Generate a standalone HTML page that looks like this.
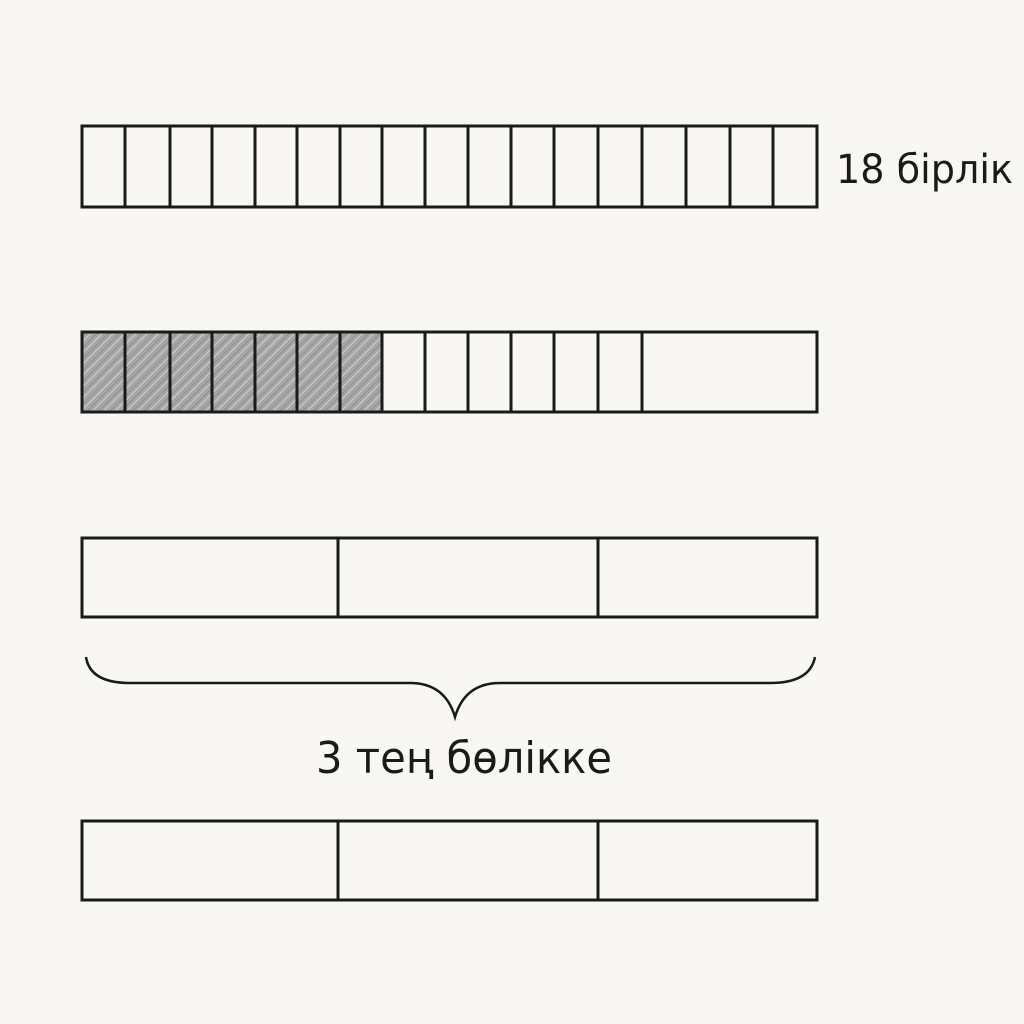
<!DOCTYPE html>
<html><head><meta charset="utf-8"><style>
html,body{margin:0;padding:0;background:#f9f7f3;}
svg{display:block}
text{font-family:"DejaVu Sans","Liberation Sans",sans-serif;fill:#1a1a1a}
</style></head><body>
<svg width="1024" height="1024" viewBox="0 0 1024 1024">
<defs>
<pattern id="h" width="8" height="8" patternUnits="userSpaceOnUse" patternTransform="rotate(45)">
<rect width="8" height="8" fill="#a6a6a6"/>
<line x1="0" y1="0" x2="0" y2="8" stroke="#888" stroke-width="1.5"/>
<line x1="4" y1="0" x2="4" y2="8" stroke="#cfcfcf" stroke-width="1"/>
</pattern>
</defs>
<g fill="none" stroke="#1a1a1a" stroke-width="3">
<rect x="82" y="126" width="735" height="81"/>
<path d="M125 126V207M170 126V207M212 126V207M255 126V207M297 126V207M340 126V207M382 126V207M425 126V207M468 126V207M511 126V207M554 126V207M598 126V207M642 126V207M686 126V207M730 126V207M773 126V207"/>
<rect x="82" y="332" width="300" height="80" fill="url(#h)" stroke="none"/>
<rect x="82" y="332" width="735" height="80"/>
<path d="M125 332V412M170 332V412M212 332V412M255 332V412M297 332V412M340 332V412M382 332V412M425 332V412M468 332V412M511 332V412M554 332V412M598 332V412M642 332V412"/>
<rect x="82" y="538" width="735" height="79"/>
<path d="M338 538V617M598 538V617"/>
<path d="M86 657 Q90 683 130 683 L410 683 Q445 683 455 717 Q465 683 500 683 L770 683 Q810 683 815 657" stroke-width="2.5"/>
<rect x="82" y="821" width="735" height="79"/>
<path d="M338 821V900M598 821V900"/>
</g>
<text x="836" y="183" font-size="40" textLength="177" lengthAdjust="spacingAndGlyphs">18 бірлік</text>
<text x="316" y="773" font-size="44" textLength="296" lengthAdjust="spacingAndGlyphs">3 тең бөлікке</text>
</svg>
</body></html>
